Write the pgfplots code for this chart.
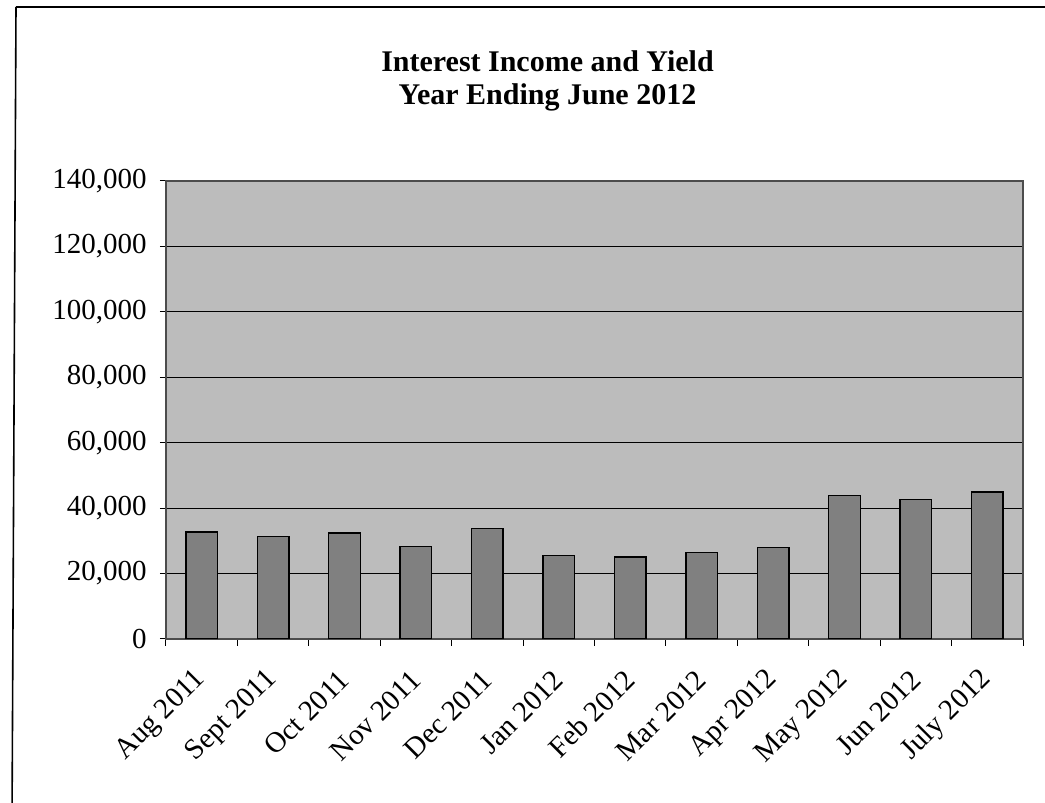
\documentclass[border=0pt]{standalone}
\usepackage{fontspec}
\setmainfont{Liberation Serif}
\usepackage{pgfplots}
\pgfplotsset{compat=1.18}
\definecolor{plotbg}{RGB}{188,188,188}
\definecolor{barfill}{RGB}{128,128,128}
\begin{document}
\begin{tikzpicture}
\useasboundingbox (0,0) rectangle (522.5pt,401.5pt);
\draw[line width=0.8pt] (8pt,398pt) -- (540pt,398pt);
\draw[line width=0.8pt] (8pt,398pt) -- (6pt,-10pt);
\node[anchor=base, font=\fontsize{15}{17}\selectfont\bfseries] at (273.75pt,365.5pt) {Interest Income and Yield};
\node[anchor=base, font=\fontsize{15}{17}\selectfont\bfseries] at (273.75pt,349pt) {Year Ending June 2012};
\begin{axis}[
  at={(83pt,82pt)}, anchor=south west,
  scale only axis, width=428.5pt, height=229pt,
  xmin=-0.5, xmax=11.5, ymin=0, ymax=140000,
  ytick={0,20000,40000,60000,80000,100000,120000,140000},
  yticklabels={0,{20,000},{40,000},{60,000},{80,000},{100,000},{120,000},{140,000}},
  scaled y ticks=false,
  axis background/.style={fill=plotbg},
  axis line style={black!70, line width=0.6pt},
  ymajorgrids, grid style={black, line width=0.5pt},
  tick align=outside, xtick pos=bottom, ytick pos=left,
  major tick length=3pt,
  xtick={0,...,11},
  xticklabels={Aug 2011,Sept 2011,Oct 2011,Nov 2011,Dec 2011,Jan 2012,Feb 2012,Mar 2012,Apr 2012,May 2012,Jun 2012,July 2012},
  major x tick style={draw=none},
  minor xtick={-0.5,0.5,...,11.5},
  minor tick length=3.5pt,
  minor x tick style={black, line width=0.5pt},
  major y tick style={black, line width=0.5pt},
  tick label style={font=\fontsize{14.5}{16}\selectfont},
  yticklabel style={anchor=east, inner sep=0pt, xshift=-6.5pt},
  xticklabel style={inner sep=0pt, xshift=0pt, yshift=-15pt, rotate=45, anchor=east},
]
\addplot[ybar, bar width=15.8pt, fill=barfill, draw=black, line width=0.7pt] coordinates {
(0,32700) (1,31400) (2,32400) (3,28300) (4,33800) (5,25500)
(6,25100) (7,26400) (8,28000) (9,43900) (10,42600) (11,44900)};
\end{axis}
\end{tikzpicture}
\end{document}
